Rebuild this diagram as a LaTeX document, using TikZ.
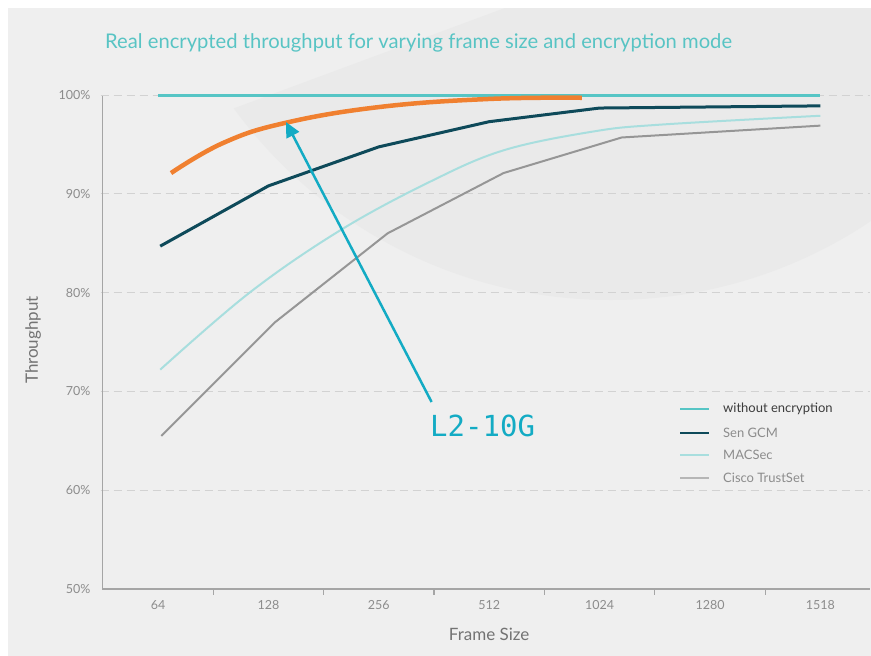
\documentclass[tikz,border=0pt]{standalone}
\usepackage{fontspec}
\setmainfont{Lato}
\newfontfamily\codefont{DejaVu Sans Mono}
\usetikzlibrary{arrows.meta, calc, positioning}
\definecolor{panel}{RGB}{239,239,239}
\definecolor{blob}{RGB}{234,234,234}
\definecolor{titlecol}{RGB}{88,196,196}
\definecolor{noenc}{RGB}{86,197,197}
\definecolor{sengcm}{RGB}{14,74,90}
\definecolor{macsec}{RGB}{168,222,222}
\definecolor{trustset}{RGB}{150,150,150}
\definecolor{l2orange}{RGB}{240,128,48}
\definecolor{callout}{RGB}{19,171,196}
\definecolor{gridcol}{RGB}{210,210,210}
\definecolor{axiscol}{RGB}{165,165,165}
\definecolor{labelcol}{RGB}{140,140,140}
\definecolor{titlegray}{RGB}{115,115,115}
\definecolor{legdark}{RGB}{60,60,60}

\begin{document}
\begin{tikzpicture}[x=1pt, y=-1pt]

% TikZ styles
\tikzset{
  gridline/.style={gridcol, line width=1pt, dash pattern=on 8pt off 5pt},
  axisline/.style={axiscol, line width=1.2pt},
  ticklabel/.style={text=labelcol, font=\fontsize{12.5}{14}\selectfont, inner sep=0pt},
  axistitle/.style={text=titlegray, font=\fontsize{17}{20}\selectfont, inner sep=0pt},
  legendtext/.style={anchor=west, inner sep=0pt, font=\fontsize{13}{15}\selectfont, text=labelcol},
  legendline/.style={line width=2pt},
  series/.style={line join=round},
  arrow/.style={-{Triangle[length=15pt, width=14pt]}, callout, line width=2.5pt}
}

\useasboundingbox (0,0) rectangle (871,656);

%==========================
% Hintergrund
%==========================
\fill[white] (0,0) rectangle (871,656);
\fill[panel] (8,8) rectangle (871,656);
\begin{scope}
  \clip (505,8) -- (871,8) -- (871,656) -- (8,656) -- (8,192) -- cycle;
  \fill[blob] (611,-167) circle (467);
\end{scope}

% --- Titel ---
\node[anchor=base west, inner sep=0pt, text=titlecol, font=\fontsize{20.2}{23}\selectfont] (title) at (105,48)
  {Real encrypted throughput for varying frame size and encryption mode};

%==========================
% Diagramm (Datenkoordinaten)
%==========================
\begin{scope}[shift={(158,1083)}, x=110.4pt, y=9.88pt]

% --- Gitter und Achsen ---
\foreach \v in {60,70,80,90,100}
  \draw[gridline] (-0.52,\v) -- (6.45,\v);
\draw[axisline] (-0.5,99.9) -- (-0.5,50) -- (6.45,50);
\foreach \t in {0.5,1.5,...,5.5}
  \draw[axisline] (\t,50) -- (\t,49.4);

\foreach \v in {50,60,...,100}
  \node[ticklabel, anchor=east] (ylab\v) at (-0.61,\v) {\v\%};
\foreach \lbl [count=\i from 0] in {64,128,256,512,1024,1280,1518}
  \node[ticklabel] (xlab\i) at (\i,48.38) {\lbl};

\node[axistitle] (xtitle) at (3.0,45.45) {Frame Size};
\node[axistitle, rotate=90] (ytitle) at (-1.13,75.2) {Throughput};

% --- Messreihen ---
\draw[noenc, line width=3pt] (0,100) -- (6,100);
\draw[trustset, line width=2pt, series] plot coordinates
  {(0.03,65.5) (1.06,77.0) (2.08,86.0) (3.13,92.1) (4.20,95.7) (6,96.9)};
\draw[macsec, line width=2pt] plot[smooth, tension=0.6] coordinates
  {(0.02,72.2) (0.83,80.0) (1.65,86.3) (2.46,91.2) (3.13,94.4) (3.94,96.3) (4.55,97.0) (6,97.9)};
\draw[sengcm, line width=3pt, series] plot coordinates
  {(0.02,84.7) (1,90.8) (2,94.75) (3,97.3) (4,98.68) (6,98.9)};
\draw[l2orange, line width=4.5pt] plot[smooth, tension=0.7] coordinates
  {(0.118,92.1) (0.589,95.14) (1.15,97.17) (2.01,98.79) (3.0,99.6) (3.84,99.72)};

% --- L2-10G Hinweis ---
\coordinate (tip) at (1.159,97.27);
\coordinate (tail) at (2.478,68.93);
\node[anchor=west, inner sep=0pt, text=callout, font=\codefont\fontsize{29}{32}\selectfont] (l2) at (2.464,66.5) {L2-10G};
\draw[arrow] (tail) -- (tip);
\end{scope}

%==========================
% Legende
%==========================
\node[legendtext, text=legdark] (leg1) at (723,409) {without encryption};
\node[legendtext] (leg2) at (723,433) {Sen GCM};
\node[legendtext] (leg3) at (723,455) {MACSec};
\node[legendtext] (leg4) at (723,478) {Cisco TrustSet};

\draw[legendline, noenc] ($(leg1.west)+(-43,0)$) -- ($(leg1.west)+(-14,0)$);
\draw[legendline, sengcm] ($(leg2.west)+(-43,0)$) -- ($(leg2.west)+(-14,0)$);
\draw[legendline, macsec] ($(leg3.west)+(-43,0)$) -- ($(leg3.west)+(-14,0)$);
\draw[legendline, trustset!70] ($(leg4.west)+(-43,0)$) -- ($(leg4.west)+(-14,0)$);

\end{tikzpicture}
\end{document}
